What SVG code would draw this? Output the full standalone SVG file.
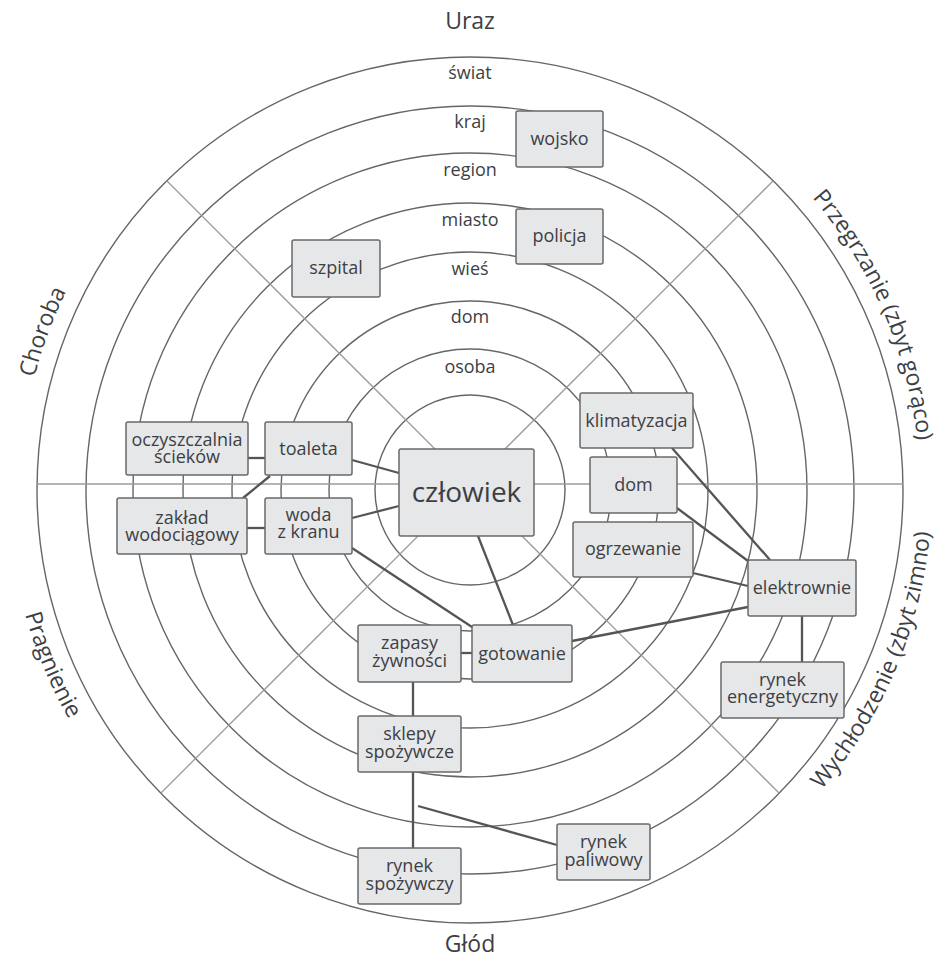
<svg xmlns="http://www.w3.org/2000/svg" width="944" height="960" viewBox="0 0 944 960">
<defs>
<style>
.ring{fill:none;stroke:#666;stroke-width:1.4}
.axis{stroke:#9c9c9c;stroke-width:1.3;fill:none}
.box{fill:#e6e7e8;stroke:#6a6a6a;stroke-width:1.5}
.conn{stroke:#555;stroke-width:2.3;fill:none}
text{font-family:"Open Sans","Noto Sans",sans-serif;fill:#3d3f45}
.n{font-size:18px;text-anchor:middle}
.big{font-size:28px;text-anchor:middle}
.r{font-size:18px;text-anchor:middle}
.cat{font-size:23px}
</style>
<path id="arcTop" d="M 20 490 A 450 450 0 0 1 920 490"/>
<path id="arcBot" d="M 8 490 A 462 462 0 0 0 932 490"/>
</defs>
<rect width="944" height="960" fill="#fff"/>
<g id="grid">
<circle class="ring" cx="470" cy="490" r="95"/>
<circle class="ring" cx="470" cy="490" r="141"/>
<circle class="ring" cx="470" cy="490" r="189"/>
<circle class="ring" cx="470" cy="490" r="238"/>
<circle class="ring" cx="470" cy="490" r="287"/>
<circle class="ring" cx="470" cy="490" r="337"/>
<circle class="ring" cx="470" cy="490" r="384"/>
<circle class="ring" cx="470" cy="490" r="433"/>
<line class="axis" x1="37" y1="484" x2="903" y2="484"/>
<line class="axis" x1="470" y1="484" x2="167" y2="181"/>
<line class="axis" x1="470" y1="484" x2="773" y2="181"/>
<line class="axis" x1="470" y1="484" x2="161" y2="793"/>
<line class="axis" x1="470" y1="484" x2="779" y2="793"/>
</g>
<g id="ring-labels">
<text class="r" x="470" y="79">świat</text>
<text class="r" x="470" y="128">kraj</text>
<text class="r" x="470" y="176">region</text>
<text class="r" x="470" y="226">miasto</text>
<text class="r" x="470" y="275">wieś</text>
<text class="r" x="470" y="323">dom</text>
<text class="r" x="470" y="373">osoba</text>
</g>
<g id="categories">
<text class="cat" x="470" y="29" text-anchor="middle">Uraz</text>
<text class="cat" x="470" y="952" text-anchor="middle">Głód</text>
<text class="cat" text-anchor="middle"><textPath href="#arcTop" startOffset="11.3%">Choroba</textPath></text>
<text class="cat" text-anchor="middle"><textPath href="#arcTop" startOffset="87%">Przegrzanie (zbyt gorąco)</textPath></text>
<text class="cat" text-anchor="middle"><textPath href="#arcBot" startOffset="12.6%">Pragnienie</textPath></text>
<text class="cat" text-anchor="middle"><textPath href="#arcBot" startOffset="87.3%">Wychłodzenie (zbyt zimno)</textPath></text>
</g>
<g id="connectors">
<line class="conn" x1="352" y1="460" x2="399" y2="473"/>
<line class="conn" x1="352" y1="518" x2="399" y2="506"/>
<line class="conn" x1="248" y1="458" x2="265" y2="458"/>
<line class="conn" x1="247" y1="528" x2="265" y2="528"/>
<line class="conn" x1="270" y1="476" x2="243" y2="498"/>
<line class="conn" x1="352" y1="548" x2="472" y2="627"/>
<line class="conn" x1="478" y1="536" x2="513" y2="625"/>
<line class="conn" x1="461" y1="653" x2="472" y2="653"/>
<line class="conn" x1="413" y1="682" x2="413" y2="716"/>
<line class="conn" x1="413" y1="772" x2="413" y2="848"/>
<line class="conn" x1="418" y1="806" x2="557" y2="845"/>
<line class="conn" x1="572" y1="641" x2="748" y2="607"/>
<line class="conn" x1="693" y1="573" x2="748" y2="586"/>
<line class="conn" x1="677" y1="508" x2="748" y2="561"/>
<line class="conn" x1="672" y1="448" x2="770" y2="560"/>
<line class="conn" x1="802" y1="616" x2="802" y2="662"/>
</g>
<g id="wojsko"><rect class="box" x="516" y="111" width="87" height="56" rx="2"/><text class="n" x="559.5" y="145">wojsko</text></g>
<g id="policja"><rect class="box" x="516" y="209" width="87" height="55" rx="2"/><text class="n" x="559.5" y="242">policja</text></g>
<g id="szpital"><rect class="box" x="292" y="240" width="88" height="57" rx="2"/><text class="n" x="336" y="274">szpital</text></g>
<g id="oczyszczalnia"><rect class="box" x="126" y="422" width="122" height="53" rx="2"/><text class="n" x="187" y="446">oczyszczalnia<tspan x="187" dy="17">ścieków</tspan></text></g>
<g id="toaleta"><rect class="box" x="265" y="422" width="87" height="53" rx="2"/><text class="n" x="308.5" y="455">toaleta</text></g>
<g id="zaklad"><rect class="box" x="117" y="498" width="130" height="56" rx="2"/><text class="n" x="182" y="524">zakład<tspan x="182" dy="17">wodociągowy</tspan></text></g>
<g id="woda"><rect class="box" x="265" y="498" width="87" height="56" rx="2"/><text class="n" x="308.5" y="521">woda<tspan x="308.5" dy="17">z kranu</tspan></text></g>
<g id="czlowiek"><rect class="box" x="399" y="449" width="135" height="87" rx="2"/><text class="big" x="466.5" y="502">człowiek</text></g>
<g id="klimatyzacja"><rect class="box" x="580" y="393" width="113" height="55" rx="2"/><text class="n" x="636.5" y="427">klimatyzacja</text></g>
<g id="dom"><rect class="box" x="590" y="457" width="87" height="56" rx="2"/><text class="n" x="633.5" y="491">dom</text></g>
<g id="ogrzewanie"><rect class="box" x="573" y="522" width="120" height="55" rx="2"/><text class="n" x="633" y="555">ogrzewanie</text></g>
<g id="elektrownie"><rect class="box" x="748" y="560" width="108" height="56" rx="2"/><text class="n" x="802" y="594">elektrownie</text></g>
<g id="rynek-energetyczny"><rect class="box" x="721" y="662" width="123" height="56" rx="2"/><text class="n" x="782.5" y="686">rynek<tspan x="782.5" dy="17">energetyczny</tspan></text></g>
<g id="gotowanie"><rect class="box" x="472" y="625" width="100" height="57" rx="2"/><text class="n" x="522" y="660">gotowanie</text></g>
<g id="zapasy"><rect class="box" x="358" y="625" width="103" height="57" rx="2"/><text class="n" x="409.5" y="649">zapasy<tspan x="409.5" dy="18">żywności</tspan></text></g>
<g id="sklepy"><rect class="box" x="358" y="716" width="103" height="56" rx="2"/><text class="n" x="409.5" y="740">sklepy<tspan x="409.5" dy="18">spożywcze</tspan></text></g>
<g id="rynek-spozywczy"><rect class="box" x="358" y="848" width="103" height="56" rx="2"/><text class="n" x="409.5" y="872">rynek<tspan x="409.5" dy="18">spożywczy</tspan></text></g>
<g id="rynek-paliwowy"><rect class="box" x="557" y="824" width="93" height="56" rx="2"/><text class="n" x="603.5" y="848">rynek<tspan x="603.5" dy="18">paliwowy</tspan></text></g>
</svg>
